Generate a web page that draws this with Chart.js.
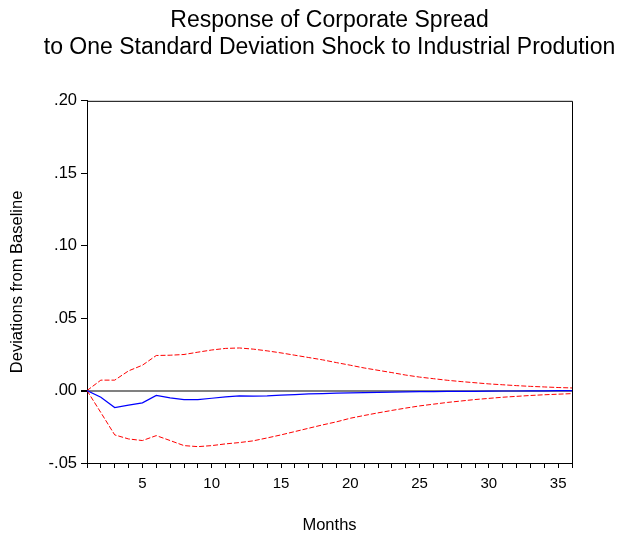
<!DOCTYPE html>
<html>
<head>
<meta charset="utf-8">
<script src="https://cdn.jsdelivr.net/npm/chart.js@4"></script>
<style>
  body { margin: 0; background: #fff; }
  #wrap { width: 621px; height: 535px; }
</style>
</head>
<body>
<div id="wrap"><canvas id="irfChart" width="621" height="535"></canvas></div>
<script>
// months (horizon)
const months = [1, 2, 3, 4, 5, 6, 7, 8, 9, 10, 11, 12, 13, 14, 15, 16, 17, 18,
    19, 20, 21, 22, 23, 24, 25, 26, 27, 28, 29, 30, 31, 32, 33, 34, 35, 36];

// impulse response
const response = [0, -0.0046, -0.0117, -0.0101, -0.0085, -0.0034, -0.0050, -0.0062, -0.0062,
    -0.0053, -0.0044, -0.0037, -0.0039, -0.0037, -0.0032, -0.0028, -0.0023, -0.0021,
    -0.0018, -0.0016, -0.0014, -0.0012, -0.0011, -0.0009, -0.0008, -0.0007, -0.0006,
    -0.0005, -0.0005, -0.0004, -0.0003, -0.0003, -0.0002, -0.0002, -0.0001, -0.0001];

// +/- 2 S.E. bands
const upperBand = [0, 0.0072, 0.0072, 0.0136, 0.0175, 0.0242, 0.0244, 0.0249, 0.0265,
    0.0280, 0.0291, 0.0294, 0.0286, 0.0274, 0.0260, 0.0244, 0.0228, 0.0212,
    0.0193, 0.0175, 0.0156, 0.0140, 0.0124, 0.0107, 0.0093, 0.0082, 0.0071,
    0.0062, 0.0054, 0.0046, 0.0040, 0.0034, 0.0029, 0.0025, 0.0021, 0.0018];

const lowerBand = [0, -0.0152, -0.0306, -0.0334, -0.0345, -0.0311, -0.0345, -0.0380, -0.0387,
    -0.0380, -0.0368, -0.0359, -0.0347, -0.0327, -0.0306, -0.0283, -0.0260, -0.0237,
    -0.0216, -0.0191, -0.0172, -0.0154, -0.0137, -0.0121, -0.0106, -0.0094, -0.0082,
    -0.0072, -0.0062, -0.0054, -0.0046, -0.0040, -0.0034, -0.0029, -0.0025, -0.0021];

const FONT = '"Liberation Sans", Arial, sans-serif';

function toPoints(values) {
    return months.map((m, i) => ({ x: m, y: values[i] }));
}

// 위쪽/오른쪽 테두리
const frameBox = {
    id: 'frameBox',
    afterDraw(chart) {
        const { ctx, chartArea: a } = chart;
        ctx.save();
        ctx.strokeStyle = '#000';
        ctx.lineWidth = 1;
        ctx.beginPath();
        ctx.moveTo(a.left, a.top + 0.5);
        ctx.lineTo(a.right + 0.5, a.top + 0.5);
        ctx.lineTo(a.right + 0.5, a.bottom);
        ctx.stroke();
        ctx.restore();
    }
};

new Chart(document.getElementById('irfChart'), {
    type: 'line',
    data: {
        datasets: [{
            label: 'Response',
            data: toPoints(response),
            borderColor: '#0000ff',
            borderWidth: 1.2,
            pointRadius: 0,
            tension: 0
        }, {
            label: 'Upper',
            data: toPoints(upperBand),
            borderColor: '#ff0000',
            borderWidth: 1,
            borderDash: [5, 2],
            pointRadius: 0,
            tension: 0
        }, {
            label: 'Lower',
            data: toPoints(lowerBand),
            borderColor: '#ff0000',
            borderWidth: 1,
            borderDash: [5, 2],
            pointRadius: 0,
            tension: 0
        }]
    },
    options: {
        responsive: false,
        animation: false,
        // 제목을 플롯 영역 가운데에 맞추기 위한 여백
        layout: { padding: { left: 38, right: 0, top: 0, bottom: 0 } },
        plugins: {
            legend: { display: false },
            tooltip: { enabled: false },
            title: {
                display: true,
                fullSize: true,
                text: ['Response of Corporate Spread',
                    'to One Standard Deviation Shock to Industrial Prodution'],
                color: '#000',
                font: { family: FONT, size: 23, weight: 'normal', lineHeight: 1.17 },
                padding: { top: 7, bottom: 40 }
            }
        },
        scales: {
            x: {
                type: 'linear',
                min: 1,
                max: 36,
                afterFit: s => { s.height = 72; },
                border: { display: true, color: '#000', width: 1 },
                grid: { drawOnChartArea: false, tickLength: 5, tickColor: '#000' },
                ticks: {
                    stepSize: 1,
                    autoSkip: false,
                    maxRotation: 0,
                    padding: 7,
                    color: '#000',
                    font: { family: FONT, size: 15 },
                    callback: v => (v % 5 === 0 ? String(v) : '')
                },
                title: {
                    display: true,
                    text: 'Months',
                    color: '#000',
                    font: { family: FONT, size: 16.5 },
                    padding: { top: 0, bottom: 0 }
                }
            },
            y: {
                min: -0.05,
                max: 0.2,
                afterFit: s => { s.width = 49; },
                border: { display: true, color: '#000', width: 1 },
                grid: {
                    drawOnChartArea: true,
                    tickLength: 6,
                    tickColor: '#000',
                    color: c => (c.tick && Math.abs(c.tick.value) < 1e-9 ? '#808080' : 'rgba(0,0,0,0)'),
                    lineWidth: c => (c.tick && Math.abs(c.tick.value) < 1e-9 ? 2 : 1)
                },
                ticks: {
                    stepSize: 0.05,
                    padding: 4,
                    color: '#000',
                    font: { family: FONT, size: 16.5 },
                    callback: v => v.toFixed(2).replace('0.', '.')
                },
                title: {
                    display: true,
                    text: 'Deviations from Baseline',
                    color: '#000',
                    font: { family: FONT, size: 16.5 },
                    padding: { top: -30, bottom: 0 }
                }
            },
            // 오른쪽 여백용 빈 축
            yRight: {
                position: 'right',
                min: -0.05,
                max: 0.2,
                afterFit: s => { s.width = 49; },
                border: { display: false },
                grid: { display: false },
                ticks: { display: false }
            }
        }
    },
    plugins: [frameBox]
});
</script>
</body>
</html>
